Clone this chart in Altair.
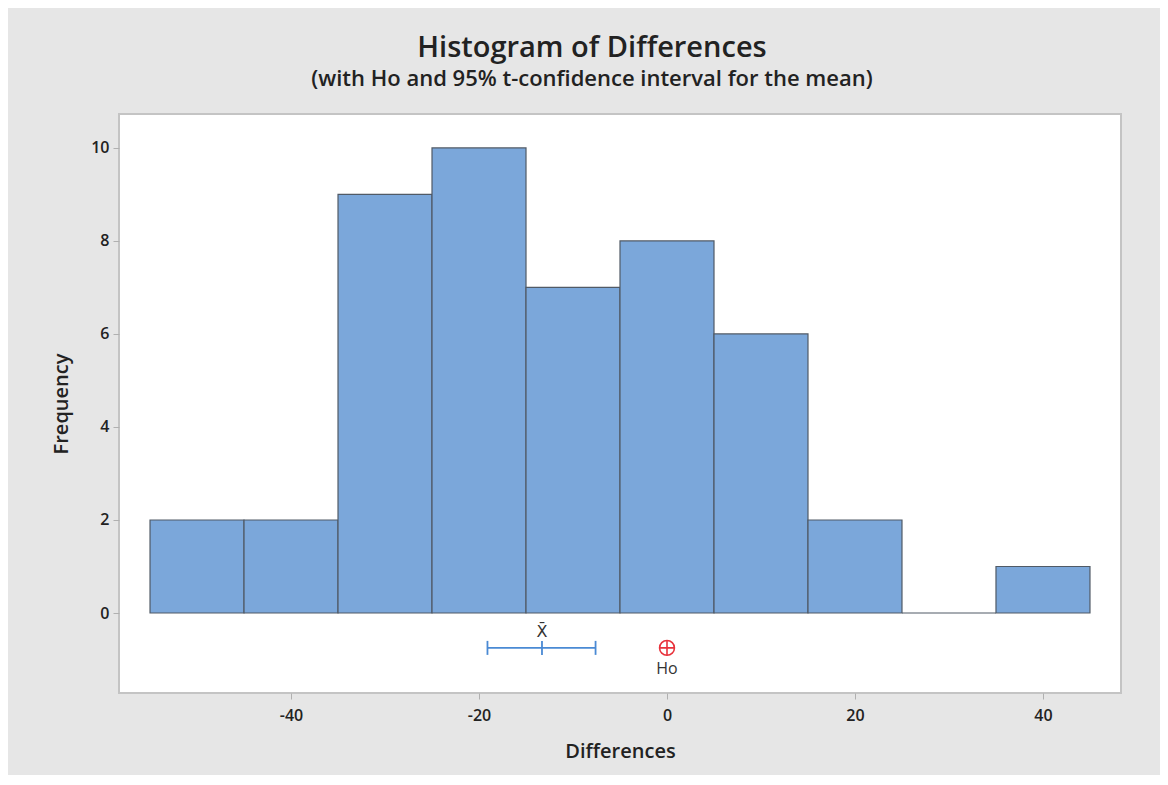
import altair as alt
import pandas as pd

# Histogram data
bin_start = [-55, -45, -35, -25, -15, -5, 5, 15, 25, 35]
bin_end = [-45, -35, -25, -15, -5, 5, 15, 25, 35, 45]
counts = [2, 2, 9, 10, 7, 8, 6, 2, 0, 1]

# Confidence interval and hypothesized mean
ci_low = [-19.1]
ci_high = [-7.6]
mean_x = [-13.3]
h0_x = [0]
marker_y = [-0.75]

x_ticks = [-40, -20, 0, 20, 40]
y_ticks = [0, 2, 4, 6, 8, 10]

FONT = "Open Sans"
X_DOM = [-58.3, 48.3]
Y_DOM = [-1.72, 10.73]

hist = pd.DataFrame({"start": bin_start, "end": bin_end, "count": counts})
ci = pd.DataFrame({"lo": ci_low, "hi": ci_high, "m": mean_x, "y": marker_y})
ends = pd.DataFrame({"x": ci_low + ci_high + mean_x, "y": marker_y * 3})
h0 = pd.DataFrame({"x": h0_x, "y": marker_y})
xbar_lab = pd.DataFrame({"x": mean_x, "y": marker_y, "t": ["X̄"]})
h0_lab = pd.DataFrame({"x": h0_x, "y": marker_y, "t": ["Ho"]})

xs = alt.Scale(domain=X_DOM, nice=False, zero=False)
ys = alt.Scale(domain=Y_DOM, nice=False, zero=False)

hyphen = "datum.value < 0 ? '-' + abs(datum.value) : '' + datum.value"

x_axis = alt.Axis(values=x_ticks, title="Differences", grid=False, domain=False,
                  tickColor="#b0b0b0", tickSize=6, labelPadding=8, labelExpr=hyphen,
                  labelFont=FONT, labelFontSize=16, labelFontWeight=600, labelColor="#222",
                  titleFont=FONT, titleFontSize=20, titleFontWeight=600, titleColor="#222",
                  titlePadding=18)
y_axis = alt.Axis(values=y_ticks, title="Frequency", grid=False, domain=False,
                  tickColor="#b0b0b0", tickSize=6, labelPadding=4,
                  labelFont=FONT, labelFontSize=16, labelFontWeight=600, labelColor="#222",
                  titleFont=FONT, titleFontSize=20, titleFontWeight=600, titleColor="#222",
                  titlePadding=19)

bars = alt.Chart(hist).mark_rect(fill="#7ba7da", stroke="#505a66", strokeWidth=1.2).encode(
    x=alt.X("start:Q", scale=xs, axis=x_axis),
    x2="end:Q",
    y=alt.Y("count:Q", scale=ys, axis=y_axis),
    y2=alt.datum(0),
)

ci_line = alt.Chart(ci).mark_rule(color="#4a8ad4", strokeWidth=1.8).encode(
    x=alt.X("lo:Q", scale=xs), x2="hi:Q", y=alt.Y("y:Q", scale=ys)
)
ci_ends = alt.Chart(ends).mark_point(shape="M0,-1L0,1", size=196, color="#4a8ad4",
                                      strokeWidth=1.8, filled=False, opacity=1).encode(
    x=alt.X("x:Q", scale=xs), y=alt.Y("y:Q", scale=ys)
)
h0_circle = alt.Chart(h0).mark_point(shape="circle", size=220, color="#e8333c",
                                     strokeWidth=1.6, filled=False, opacity=1).encode(
    x=alt.X("x:Q", scale=xs), y=alt.Y("y:Q", scale=ys)
)
h0_cross = alt.Chart(h0).mark_point(shape="M-1,0L1,0M0,-1L0,1", size=220, color="#e8333c",
                                    strokeWidth=1.6, filled=False, opacity=1).encode(
    x=alt.X("x:Q", scale=xs), y=alt.Y("y:Q", scale=ys)
)
xbar_text = alt.Chart(xbar_lab).mark_text(font="DejaVu Sans", fontSize=16, color="#333",
                                           dy=-16).encode(
    x=alt.X("x:Q", scale=xs), y=alt.Y("y:Q", scale=ys), text="t:N"
)
h0_text = alt.Chart(h0_lab).mark_text(font=FONT, fontSize=16, color="#333",
                                       dy=21).encode(
    x=alt.X("x:Q", scale=xs), y=alt.Y("y:Q", scale=ys), text="t:N"
)

chart = alt.layer(bars, ci_line, ci_ends, h0_circle, h0_cross, xbar_text, h0_text).properties(
    width=1002,
    height=579,
    autosize=alt.AutoSizeParams(type="none"),
    padding={"left": 111, "top": 106, "right": 39, "bottom": 82},
    background="#e6e6e6",
    title=alt.TitleParams(
        text="Histogram of Differences",
        subtitle="(with Ho and 95% t-confidence interval for the mean)",
        anchor="middle", dx=-28, offset=24,
        font=FONT, fontSize=29, fontWeight=600, color="#222",
        subtitleFont=FONT, subtitleFontSize=22, subtitleFontWeight=600,
        subtitleColor="#222", subtitlePadding=6,
    ),
).configure_view(fill="white", stroke="#c4c4c4", strokeWidth=2)

chart.save("out.html", embed_options={"renderer": "svg", "actions": False})
